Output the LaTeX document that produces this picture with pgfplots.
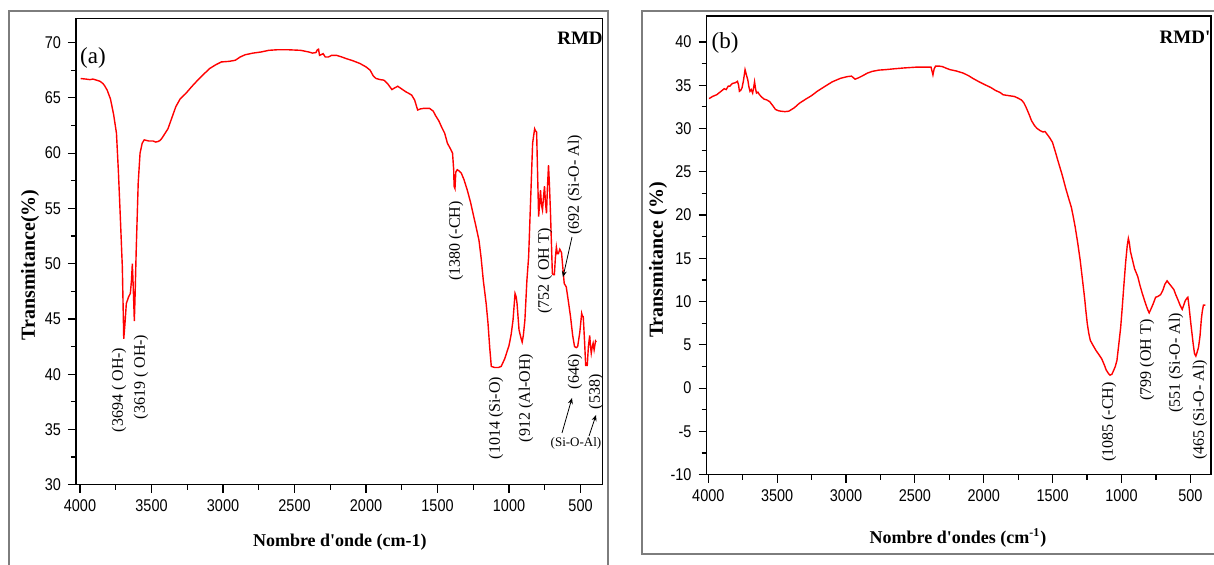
\documentclass[border=0pt]{standalone}
\usepackage{fontspec}
\setmainfont{Liberation Serif}
\newfontfamily\tickfont[FakeStretch=0.85]{Liberation Sans}
\usepackage{pgfplots}
\pgfplotsset{compat=1.18}
\usetikzlibrary{arrows.meta}
\definecolor{framegray}{RGB}{125,125,125}
\definecolor{spec}{RGB}{255,0,0}
\pgfplotsset{ftir/.style={
  scale only axis, x dir=reverse,
  axis line style={line width=0.7pt},
  tick align=outside, xtick pos=bottom, ytick pos=left,
  major tick length=4pt, minor tick length=2.5pt,
  every tick/.style={black, line width=0.6pt},
  minor x tick num=1, minor y tick num=1,
  tick label style={font=\tickfont\fontsize{8.5}{9}\selectfont},
  /pgf/number format/assume math mode=true,
  /pgf/number format/1000 sep={},
  label style={font=\bfseries\fontsize{9}{10}\selectfont},
  xtick={500,1000,...,4000},
}}
\begin{document}
\begin{tikzpicture}
\useasboundingbox (0,0) rectangle (607pt,282.5pt);
% frames
\begin{scope}[x=0.5pt, y=-0.5pt, yshift=282.5pt]
\draw[framegray, line width=1.3pt] (9,11) rectangle (608,575);
\draw[framegray, line width=1.3pt] (642,11) rectangle (1218,554);
\end{scope}

\begin{axis}[ftir, at={(38pt,40.15pt)}, anchor=south west,
  width=263.35pt, height=233.2pt,
  xmin=345, xmax=4028, ymin=30, ymax=72.2,
  ytick={30,35,...,70},
  xlabel={Nombre d\textquotesingle onde (cm-1)},
  ylabel={Transmitance(\%)},
  xlabel style={at={(axis description cs:0.501,-0.123)}, anchor=center},
  ylabel style={at={(axis description cs:-0.087,0.471)}, anchor=center, font=\bfseries\fontsize{10}{11}\selectfont},
]
\addplot[spec, line width=0.7pt, no marks] coordinates {
(3995,66.75) (3960,66.7) (3930,66.65) (3910,66.7) (3884,66.6) (3860,66.5)
(3840,66.3) (3828,66.1) (3810,65.7) (3787,64.9) (3765,63.5) (3745,61.8)
(3731,58.2) (3718,54.2) (3704,49.7) (3694,43.2) (3686,44.5) (3676,46.4)
(3660,47.0) (3648,47.3) (3640,48.5) (3634,50.0) (3628,48.0) (3620,44.8)
(3614,47.5) (3607,51.2) (3593,57.3) (3580,60.0) (3565,60.9) (3551,61.2)
(3520,61.1) (3490,61.1) (3470,61.0) (3454,61.05) (3440,61.15) (3427,61.35)
(3385,62.2) (3330,64.2) (3300,64.9) (3260,65.4) (3220,66.0) (3177,66.6)
(3130,67.2) (3094,67.65) (3050,68.0) (3011,68.25) (2960,68.3) (2914,68.4)
(2880,68.7) (2845,68.9) (2790,69.05) (2734,69.15) (2680,69.3) (2623,69.35)
(2540,69.35) (2457,69.3) (2400,69.15) (2374,69.05) (2350,69.1) (2340,69.35)
(2332,69.4) (2325,68.85) (2315,68.9) (2300,69.0) (2285,68.7) (2263,68.7)
(2240,68.85) (2207,68.85) (2170,68.7) (2138,68.55) (2090,68.35) (2041,68.1)
(2000,67.8) (1971,67.5) (1950,67.0) (1930,66.75) (1900,66.65) (1875,66.6)
(1850,66.3) (1819,65.75) (1800,65.9) (1778,66.05) (1750,65.8) (1722,65.55)
(1700,65.4) (1681,65.25) (1660,64.8) (1639,63.9) (1620,64.0) (1597,64.05)
(1556,64.05) (1530,63.8) (1514,63.4) (1490,62.9) (1473,62.4) (1450,61.8)
(1431,60.9) (1410,60.4) (1395,60.0) (1387,58.5) (1384,57.0) (1378,56.8)
(1372,58.3) (1362,58.5) (1350,58.4) (1334,58.2) (1315,57.6) (1293,56.7)
(1270,55.6) (1251,54.5) (1230,53.3) (1210,52.1) (1195,50.5) (1180,48.5)
(1160,46.4) (1147,44.6) (1135,42.4) (1124,40.7) (1100,40.6) (1075,40.6)
(1055,40.7) (1030,41.4) (1000,42.6) (985,43.6) (972,44.9) (958,47.3)
(950,47.0) (944,46.4) (930,44.0) (915,43.2) (908,42.9) (900,43.5)
(889,44.9) (875,48.5) (863,50.6) (849,55.75) (835,60.9) (821,62.2)
(814,62.0) (807,61.9) (800,58.0) (793,54.25) (786,55.5) (780,56.65)
(773,55.3) (766,54.85) (759,56.0) (752,57.0) (745,55.5) (738,54.55)
(731,57.0) (724,58.9) (717,57.0) (710,54.55) (697,49.1) (690,49.0)
(683,49.0) (676,50.5) (669,51.5) (662,50.9) (655,50.9) (645,51.3)
(633,51.0) (614,48.2) (600,47.9) (584,46.5) (570,45.2) (555,43.5)
(542,42.5) (530,42.4) (520,42.5) (505,43.8) (492,45.5) (486,45.2)
(481,45.2) (472,43.0) (464,40.8) (453,40.8) (445,42.5) (436,43.5)
(430,42.5) (425,41.9) (418,42.5) (412,42.8) (405,42.2) (395,43.0) (390,42.9)
};
\end{axis}

\begin{axis}[ftir, at={(353.25pt,45.15pt)}, anchor=south west,
  width=252.25pt, height=229.35pt,
  xmin=350, xmax=4013, ymin=-10, ymax=43,
  ytick={-10,-5,...,40},
  xlabel={Nombre d\textquotesingle ondes (cm\textsuperscript{-1})},
  ylabel={Transmitance (\%)},
  xlabel style={at={(axis description cs:0.4985,-0.138)}, anchor=center},
  ylabel style={at={(axis description cs:-0.096,0.468)}, anchor=center, font=\bfseries\fontsize{10}{11}\selectfont},
]
\addplot[spec, line width=0.7pt, no marks] coordinates {
(3994,33.45) (3970,33.7) (3939,33.9) (3915,34.2) (3884,34.6) (3870,34.5)
(3855,34.9) (3843,34.9) (3825,35.2) (3802,35.3) (3788,35.45) (3780,35.0)
(3774,34.3) (3765,34.4) (3755,34.7) (3745,35.5) (3733,36.8) (3725,36.3)
(3713,35.6) (3705,34.8) (3697,34.3) (3688,34.5) (3678,34.1) (3670,34.8)
(3664,35.4) (3657,34.6) (3650,34.1) (3640,34.2) (3628,33.9) (3610,33.6)
(3595,33.4) (3575,33.3) (3554,33.1) (3530,32.6) (3512,32.2) (3490,32.05)
(3471,32.0) (3445,31.95) (3416,32.0) (3395,32.2) (3375,32.4) (3340,32.9)
(3292,33.4) (3250,33.8) (3209,34.3) (3150,34.9) (3099,35.4) (3040,35.8)
(2989,36.0) (2960,36.05) (2934,35.7) (2910,35.85) (2879,36.1) (2845,36.4)
(2810,36.6) (2760,36.75) (2714,36.8) (2650,36.9) (2576,37.0) (2480,37.1)
(2383,37.1) (2375,36.6) (2369,36.2) (2360,36.9) (2350,37.2) (2342,37.2)
(2320,37.2) (2300,37.15) (2270,36.95) (2245,36.8) (2200,36.65) (2149,36.4)
(2110,36.1) (2080,35.8) (2040,35.45) (1997,35.1) (1950,34.75) (1915,34.4)
(1880,34.15) (1860,33.9) (1820,33.8) (1777,33.7) (1750,33.5) (1727,33.3)
(1710,33.0) (1694,32.5) (1670,31.6) (1653,30.9) (1630,30.3) (1612,30.0)
(1590,29.75) (1570,29.6) (1555,29.65) (1543,29.4) (1520,28.9) (1501,28.4)
(1480,27.3) (1460,26.2) (1430,24.6) (1405,23.1) (1385,22.0) (1364,20.9)
(1350,19.8) (1336,18.6) (1318,16.8) (1300,14.8) (1283,12.5) (1267,10.3)
(1259,9.0) (1248,7.4) (1237,6.3) (1226,5.5) (1205,4.9) (1185,4.35)
(1165,3.9) (1144,3.4) (1125,2.7) (1111,2.1) (1095,1.7) (1083,1.5)
(1070,1.6) (1061,1.9) (1045,2.5) (1033,3.2) (1020,5.0) (1006,7.0)
(995,9.2) (984,11.6) (970,14.5) (958,16.5) (950,17.3) (943,16.8)
(935,15.8) (923,15.0) (905,13.8) (882,12.9) (868,12.0) (850,11.0)
(832,10.1) (815,9.3) (805,8.9) (799,8.7) (790,9.0) (771,9.7)
(752,10.5) (735,10.6) (716,10.8) (700,11.3) (685,12.0) (669,12.4)
(650,12.0) (635,11.7) (620,11.4) (606,10.8) (590,10.2) (575,9.6)
(559,9.1) (548,9.6) (537,10.1) (525,10.4) (518,10.5) (510,9.5)
(496,7.4) (480,5.2) (470,4.0) (460,3.7) (450,4.2) (441,4.7)
(430,6.0) (420,8.0) (413,8.9) (405,9.6) (391,9.6)
};
\end{axis}

% annotations (image pixel coordinates)
\begin{scope}[x=0.5pt, y=-0.5pt, yshift=282.5pt, every node/.style={inner sep=0pt}]
\tikzset{ann/.style={rotate=90, font=\fontsize{8}{9}\selectfont}}
\node[font=\fontsize{11.5}{12}\selectfont] at (93,58) {(a)};
\node[font=\bfseries\fontsize{9.5}{10}\selectfont] at (580,38) {RMD};
\node[ann] at (119,390) {(3694 ( OH-)};
\node[ann] at (141,377) {(3619 ( OH-)};
\node[ann] at (456,241) {(1380 (-CH)};
\node[ann] at (496,418) {(1014 (Si-O)};
\node[ann] at (526,398) {(912 (Al-OH)};
\node[ann] at (545,271) {(752 ( OH T)};
\node[ann] at (575,185) {(692 (Si-O- Al)};
\node[ann] at (575,372) {(646)};
\node[ann] at (596,392) {(538)};
\node[font=\fontsize{6.5}{7}\selectfont] at (576,443) {(Si-O-Al)};
\draw[-{Stealth[length=3pt,width=2.5pt]}, line width=0.4pt] (562,433) -- (572,398);
\draw[-{Stealth[length=3pt,width=2.5pt]}, line width=0.4pt] (589,436) -- (596,415);
\draw[-{Stealth[length=3pt,width=2.5pt]}, line width=0.4pt] (572,237) -- (563,277);
\node[font=\fontsize{11.5}{12}\selectfont] at (725,43) {(b)};
\node[font=\bfseries\fontsize{9.5}{10}\selectfont] at (1185,37) {RMD\textquotesingle};
\node[ann] at (1109,422) {(1085 (-CH)};
\node[ann] at (1147,360) {(799 (OH T)};
\node[ann] at (1176,363) {(551 (Si-O- Al)};
\node[ann] at (1200,410) {(465 (Si-O- Al)};
\end{scope}
\end{tikzpicture}
\end{document}
